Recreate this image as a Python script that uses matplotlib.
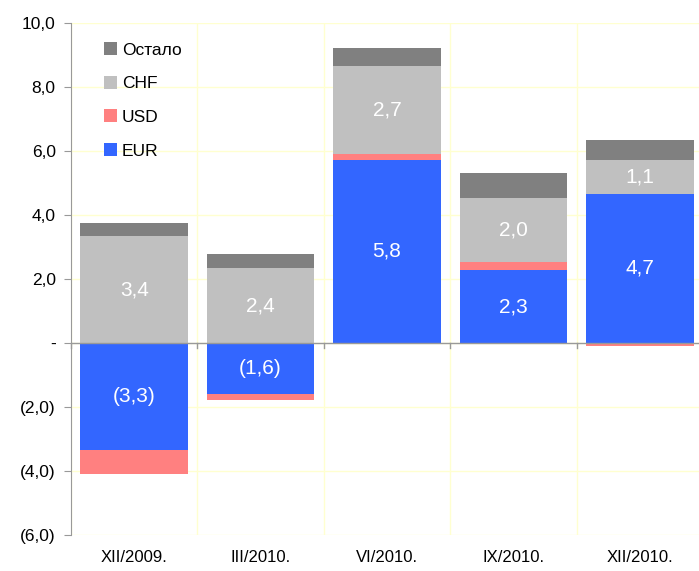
import numpy as np
import matplotlib.pyplot as plt
from matplotlib.ticker import FixedLocator

plt.rcParams['font.family'] = ['Liberation Sans', 'DejaVu Sans']

categories = ['XII/2009.', 'III/2010.', 'VI/2010.', 'IX/2010.', 'XII/2010.']
eur = [-3.33, -1.6, 5.72, 2.28, 4.66]
usd = [-0.75, -0.18, 0.19, 0.25, -0.08]
chf = [3.34, 2.34, 2.75, 2.0, 1.06]
ostalo = [0.41, 0.44, 0.56, 0.78, 0.62]
eur_labels = ['(3,3)', '(1,6)', '5,8', '2,3', '4,7']
chf_labels = ['3,4', '2,4', '2,7', '2,0', '1,1']

series = [('EUR', eur, '#3366FF'), ('USD', usd, '#FF8080'),
          ('CHF', chf, '#C0C0C0'), ('Остало', ostalo, '#808080')]

def fmt(v):
    if abs(v) < 1e-9:
        return '-'
    s = '{:.1f}'.format(abs(v)).replace('.', ',')
    return '(' + s + ')' if v < 0 else s

fig = plt.figure(figsize=(6.99, 5.71), dpi=100)
ax = fig.add_axes([71 / 699, 36 / 571, 632 / 699, 512 / 571])

x = np.arange(len(categories))
pos_base = np.zeros(len(categories))
neg_base = np.zeros(len(categories))
handles = []
for name, vals, col in series:
    vals = np.array(vals)
    bottom = np.where(vals >= 0, pos_base, neg_base)
    b = ax.bar(x, vals, 0.85, bottom=bottom, color=col, label=name, zorder=3)
    handles.append(b)
    labs = eur_labels if name == 'EUR' else chf_labels if name == 'CHF' else None
    if labs:
        for xi, bt, v, lab in zip(x, bottom, vals, labs):
            ax.text(xi, bt + v / 2, lab, ha='center', va='center', color='white', fontsize=15, zorder=4)
    pos_base = pos_base + np.where(vals >= 0, vals, 0)
    neg_base = neg_base + np.where(vals < 0, vals, 0)

ax.set_xlim(-0.5, len(categories) - 0.5)
ax.set_ylim(-6, 10)
yt = np.arange(-6, 11, 2)
ax.set_yticks(yt)
ax.set_yticklabels([fmt(v) for v in yt], fontsize=12.5)

ax.set_xticks(x)
ax.set_xticklabels(categories, fontsize=12)
ax.tick_params(axis='x', length=0, pad=11)
ax.xaxis.set_minor_locator(FixedLocator(np.arange(-0.5, len(categories), 1.0)))
ax.tick_params(axis='x', which='minor', bottom=False)
ax.tick_params(axis='y', length=5, color='#999999', pad=6)

ax.grid(True, axis='y', color='#FFFFD0', linewidth=1, zorder=0)
ax.grid(True, axis='x', which='minor', color='#FFFFD0', linewidth=1, zorder=0)

for s in ['top', 'right', 'bottom']:
    ax.spines[s].set_visible(False)
ax.spines['left'].set_color('#999999')
ax.axhline(0, color='#999999', linewidth=1, zorder=5)

# category separator ticks on the zero line
for xb in np.arange(-0.5, len(categories), 1.0):
    ax.plot([xb, xb], [0, -0.16], color='#999999', linewidth=1, zorder=5, clip_on=False)

leg = ax.legend(handles[::-1], [h.get_label() for h in handles[::-1]],
                loc='upper left', bbox_to_anchor=(0.027, 0.993), frameon=False,
                fontsize=12.5, handlelength=0.75, handleheight=0.75,
                labelspacing=1.05, handletextpad=0.3)

fig.savefig('out.png', dpi=100)
